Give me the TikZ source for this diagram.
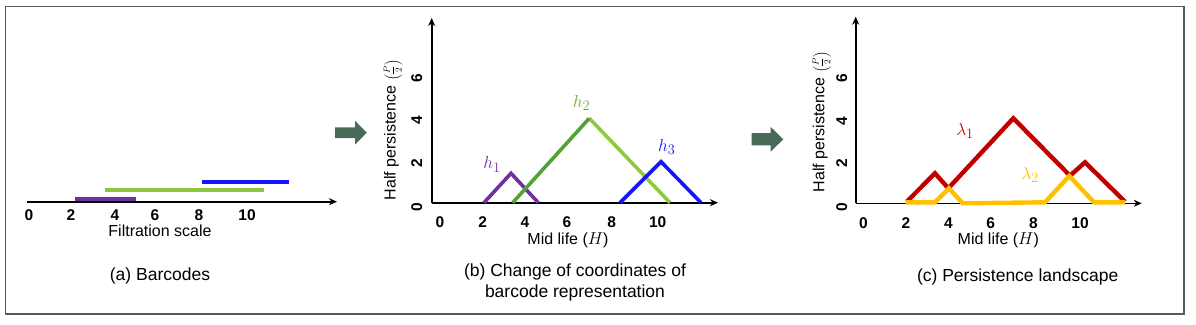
\documentclass[tikz,border=0pt]{standalone}
\usepackage{fontspec}
\setmainfont{Liberation Sans}
\usetikzlibrary{arrows.meta}
\definecolor{framegray}{HTML}{595959}
\definecolor{bpurple}{HTML}{7030A0}
\definecolor{bgreen}{HTML}{8DC63F}
\definecolor{bblue}{HTML}{1414FF}
\definecolor{dgreen}{HTML}{54A136}
\definecolor{lgreen}{HTML}{92C83E}
\definecolor{hgreen}{HTML}{6AAB3A}
\definecolor{lred}{HTML}{C00000}
\definecolor{lyellow}{HTML}{FFC000}
\definecolor{arrgreen}{HTML}{4A6A58}
\newcommand{\halfp}{{\fontsize{9}{11}\selectfont$\left(\displaystyle\frac{P}{2}\right)$}}
\tikzset{
  axis/.style={line width=1.6pt, -{Stealth[length=8pt,width=7pt]}},
  tick/.style={font=\fontsize{15.5}{17}\selectfont\bfseries, inner sep=0pt},
  ytick/.style={tick, rotate=90},
  axlabel/.style={font=\fontsize{16}{18}\selectfont, inner sep=0pt},
  caption/.style={font=\fontsize{17.5}{21.5}\selectfont, inner sep=0pt, align=center},
  bar/.style={line width=4pt},
  tri/.style={line width=3.6pt, line join=miter},
  land/.style={line width=4.4pt, line join=miter},
  mlabel/.style={font=\fontsize{19}{21}\selectfont, inner sep=0pt},
  blockarrow/.style={fill=arrgreen, draw=none}
}
\begin{document}
\begin{tikzpicture}[x=1pt,y=-1pt]
\useasboundingbox (0,0) rectangle (1196,324);
\draw[framegray, line width=1.5pt] (5.5,6.5) rectangle (1184,314);

% ---------- panel (a) ----------
\coordinate (a0) at (27,201.7);
\coordinate (a1) at (337,201.7);
\draw[axis] (a0) -- (a1);
\coordinate (pb0) at (75,199); \coordinate (pb1) at (136,199);
\coordinate (gb0) at (105,190); \coordinate (gb1) at (264,190);
\coordinate (bb0) at (202,182); \coordinate (bb1) at (289,182);
\draw[bar, bpurple] (pb0) -- (pb1);
\draw[bar, bgreen] (gb0) -- (gb1);
\draw[bar, bblue] (bb0) -- (bb1);
\node[tick] (ax0) at (29,215) {0};
\node[tick] (ax2) at (71,215) {2};
\node[tick] (ax4) at (115,215) {4};
\node[tick] (ax6) at (155,215) {6};
\node[tick] (ax8) at (199,215) {8};
\node[tick] (ax10) at (247,215) {10};
\node[axlabel] (afs) at (160,231) {Filtration scale};
\node[caption] (acap) at (160,276) {(a) Barcodes};

% ---------- arrow 1 ----------
\fill[blockarrow] (335,127.4) -- (355,127.4) -- (355,120.7) -- (366.7,132.7)
  -- (355,144.7) -- (355,138) -- (335,138) -- cycle;

% ---------- panel (b) ----------
\coordinate (bo) at (431.7,202.7);
\coordinate (byt) at (431.7,18);
\coordinate (bxt) at (718,202.7);
\draw[axis] (bo) -- (byt);
\draw[axis] (bo) -- (bxt);
\node[tick] (bx0) at (440,221.7) {0};
\node[tick] (bx2) at (482.7,221.7) {2};
\node[tick] (bx4) at (525,221.7) {4};
\node[tick] (bx6) at (567,221.7) {6};
\node[tick] (bx8) at (611.7,221.7) {8};
\node[tick] (bx10) at (657.7,221.7) {10};
\node[ytick] (by0) at (416.7,206.7) {0};
\node[ytick] (by2) at (416.7,163) {2};
\node[ytick] (by4) at (416.7,120) {4};
\node[ytick] (by6) at (416.7,78) {6};
\node[axlabel, rotate=90] (bylab) at (393,129.7) {Half persistence \halfp};
\node[axlabel] (bxlab) at (568,240.5) {Mid life ($H$)};
\coordinate (h1a) at (484,202.7); \coordinate (h1p) at (511,173.3); \coordinate (h1b) at (538.3,202.7);
\coordinate (h2a) at (512.7,202.7); \coordinate (h2p) at (589.3,118.3); \coordinate (h2b) at (670,202.7);
\coordinate (h3a) at (620,202.7); \coordinate (h3p) at (661,161.7); \coordinate (h3b) at (701,202.7);
\draw[tri, bpurple] (h1a) -- (h1p) -- (h1b);
\draw[tri, lgreen] (h2p) -- (h2b);
\draw[tri, dgreen] (h2a) -- (h2p);
\draw[tri, bblue] (h3a) -- (h3p) -- (h3b);
\node[mlabel, text=bpurple] (h1l) at (492,164.5) {$h_1$};
\node[mlabel, text=hgreen] (h2l) at (581.5,103.3) {$h_2$};
\node[mlabel, text=bblue] (h3l) at (666.7,147.3) {$h_3$};
\node[caption] (bcap) at (575,282.5) {(b) Change of coordinates of\\barcode representation};

% ---------- arrow 2 ----------
\fill[blockarrow] (751.7,133.2) -- (770.7,133.2) -- (770.7,127) -- (783.3,139.3)
  -- (770.7,151.6) -- (770.7,145.4) -- (751.7,145.4) -- cycle;

% ---------- panel (c) ----------
\coordinate (co) at (855.7,203.3);
\coordinate (cyt) at (855.7,16.7);
\coordinate (cxt) at (1141.7,203.3);
\draw[axis] (co) -- (cyt);
\draw[axis] (co) -- (cxt);
\node[tick] (cx0) at (863.3,223.5) {0};
\node[tick] (cx2) at (906,223.5) {2};
\node[tick] (cx4) at (948.3,223.5) {4};
\node[tick] (cx6) at (990.7,223.5) {6};
\node[tick] (cx8) at (1033.3,223.5) {8};
\node[tick] (cx10) at (1080,223.5) {10};
\node[ytick] (cy0) at (841.7,206.7) {0};
\node[ytick] (cy2) at (841.7,163.3) {2};
\node[ytick] (cy4) at (841.7,120.7) {4};
\node[ytick] (cy6) at (841.7,78.3) {6};
\node[axlabel, rotate=90] (cylab) at (821.7,121.7) {Half persistence \halfp};
\node[axlabel] (cxlab) at (998.3,240.5) {Mid life ($H$)};
\draw[land, lred] (906.7,201.7) -- (935,173.3) -- (948.3,188.3) -- (1013.3,118.3)
  -- (1070,175.7) -- (1085,162.3) -- (1125,201.7);
\draw[land, lyellow] (905.7,202.3) -- (935,202.3) -- (949,188.3) -- (962.7,203.3)
  -- (1045,202.3) -- (1069.3,176) -- (1094,202.3) -- (1125,202.3);
\node[mlabel, text=lred] (l1l) at (965,130.7) {$\lambda_1$};
\node[mlabel, text=lyellow] (l2l) at (1030,175) {$\lambda_2$};
\node[caption] (ccap) at (1017.7,276.7) {(c) Persistence landscape};
\end{tikzpicture}
\end{document}
